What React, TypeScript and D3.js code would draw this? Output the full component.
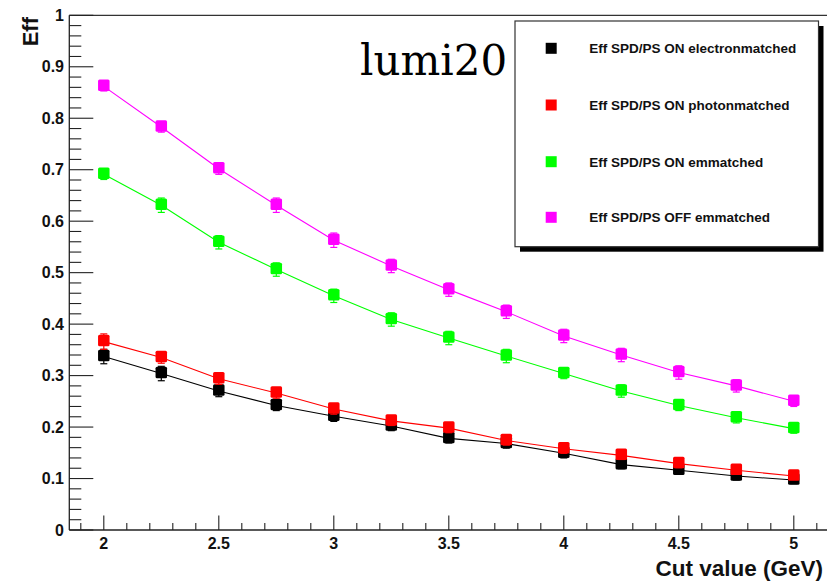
import React from "react";
import * as d3 from "d3";

// ---- data ----
const cutValues = [2, 2.25, 2.5, 2.75, 3, 3.25, 3.5, 3.75, 4, 4.25, 4.5, 4.75, 5];
const effOnElectron = [0.337, 0.304, 0.270, 0.242, 0.221, 0.202, 0.178, 0.168, 0.149, 0.127, 0.116, 0.105, 0.097];
const effOnPhoton = [0.366, 0.335, 0.294, 0.266, 0.235, 0.212, 0.198, 0.174, 0.158, 0.145, 0.129, 0.116, 0.105];
const effOnEm = [0.691, 0.631, 0.559, 0.506, 0.455, 0.409, 0.373, 0.338, 0.304, 0.270, 0.242, 0.218, 0.197];
const effOffEm = [0.862, 0.783, 0.702, 0.631, 0.563, 0.513, 0.467, 0.424, 0.377, 0.340, 0.306, 0.280, 0.250];
const errOnElectron = [0.014, 0.014, 0.011, 0.010, 0.010, 0.009, 0.009, 0.009, 0.009, 0.008, 0.008, 0.008, 0.007];
const errOnPhoton = [0.015, 0.011, 0.011, 0.010, 0.010, 0.009, 0.009, 0.009, 0.009, 0.008, 0.008, 0.008, 0.007];
const errOnEm = [0.010, 0.014, 0.013, 0.013, 0.013, 0.013, 0.013, 0.013, 0.010, 0.012, 0.010, 0.010, 0.009];
const errOffEm = [0.009, 0.010, 0.011, 0.014, 0.014, 0.013, 0.013, 0.013, 0.013, 0.013, 0.013, 0.012, 0.010];
const seriesNames = [
  "Eff SPD/PS ON electronmatched",
  "Eff SPD/PS ON photonmatched",
  "Eff SPD/PS ON emmatched",
  "Eff SPD/PS OFF emmatched",
];
const seriesColors = ["#000000", "#ff0000", "#00ff00", "#ff00ff"];
const seriesValues = [effOnElectron, effOnPhoton, effOnEm, effOffEm];
const seriesErrors = [errOnElectron, errOnPhoton, errOnEm, errOffEm];
const xMajorTicks = [2, 2.5, 3, 3.5, 4, 4.5, 5];
const xTickLabels = ["2", "2.5", "3", "3.5", "4", "4.5", "5"];
const yMajorTicks = [0, 0.1, 0.2, 0.3, 0.4, 0.5, 0.6, 0.7, 0.8, 0.9, 1];
const yTickLabels = ["0", "0.1", "0.2", "0.3", "0.4", "0.5", "0.6", "0.7", "0.8", "0.9", "1"];
const titleText = "lumi20";
const xTitle = "Cut value (GeV)";
const yTitle = "Eff";

const W = 827;
const H = 582;
const left = 69.3;
const bottom = 530;
const top = 15.3;

export default function App() {
  const x = d3.scaleLinear().domain([1.85, 5.15]).range([left, 828.3]);
  const y = d3.scaleLinear().domain([0, 1]).range([bottom, top]);
  const xMinor = d3.range(19, 52).map((v) => v / 10);
  const yMinor = d3.range(0, 51).map((v) => v / 50);
  const line = d3
    .line<number>()
    .x((_, i) => x(cutValues[i]))
    .y((d) => y(d));
  const font = "'Liberation Sans', Arial, Helvetica, sans-serif";
  const ms = 11.5;
  const legX = 515;
  const legY = 21;
  const legW = 303.5;
  const legH = 225.7;
  const legRows = [48.3, 105, 161.7, 217.3];

  return (
    <svg
      width={W}
      height={H}
      style={{ position: "absolute", left: 0, top: 0, background: "#fff" }}
      fontFamily={font}
    >
      <rect x={0} y={0} width={W} height={H} fill="#fff" />
      {/* frame */}
      <line x1={left} x2={W} y1={top} y2={top} stroke="#333" strokeWidth={1.2} />
      <line x1={left} x2={left} y1={top} y2={bottom} stroke="#222" strokeWidth={1.3} />
      <line x1={left} x2={W} y1={bottom} y2={bottom} stroke="#222" strokeWidth={1.3} />
      {/* y ticks */}
      {yMinor.map((v) => {
        const isMajor = Math.abs(v * 10 - Math.round(v * 10)) < 1e-6;
        return (
          <line
            key={"ym" + v}
            x1={left}
            x2={left + (isMajor ? 24 : 12)}
            y1={y(v)}
            y2={y(v)}
            stroke="#222"
            strokeWidth={1.1}
          />
        );
      })}
      {yMajorTicks.map((v, i) => (
        <text
          key={"yl" + v}
          x={64}
          y={y(v) + 5.6}
          textAnchor="end"
          fontSize={16}
          fontWeight="bold"
          fill="#111"
        >
          {yTickLabels[i]}
        </text>
      ))}
      {/* x ticks */}
      {xMinor.map((v) => {
        const isMajor = Math.abs(v * 2 - Math.round(v * 2)) < 1e-6;
        return (
          <line
            key={"xm" + v}
            x1={x(v)}
            x2={x(v)}
            y1={bottom}
            y2={bottom - (isMajor ? 14.5 : 7)}
            stroke="#222"
            strokeWidth={1.1}
          />
        );
      })}
      {xMajorTicks.map((v, i) => (
        <text
          key={"xl" + v}
          x={x(v)}
          y={548.5}
          textAnchor="middle"
          fontSize={16}
          fontWeight="bold"
          fill="#111"
        >
          {xTickLabels[i]}
        </text>
      ))}
      {/* axis titles */}
      <text x={823} y={576} textAnchor="end" fontSize={22.5} fontWeight="bold" fill="#111">
        {xTitle}
      </text>
      <text
        transform="translate(37.5,17) rotate(-90)"
        textAnchor="end"
        fontSize={22}
        fontWeight="bold"
        fill="#111"
      >
        {yTitle}
      </text>
      {/* series */}
      {seriesValues.map((vals, s) => (
        <g key={"s" + s}>
          <path d={line(vals) || ""} fill="none" stroke={seriesColors[s]} strokeWidth={1.1} />
          {vals.map((v, i) => {
            const cx = x(cutValues[i]);
            const e = seriesErrors[s][i];
            return (
              <g key={"p" + i}>
                <line x1={cx} x2={cx} y1={y(v - e)} y2={y(v + e)} stroke={seriesColors[s]} strokeWidth={1.2} />
                <line x1={cx - 3.5} x2={cx + 3.5} y1={y(v - e)} y2={y(v - e)} stroke={seriesColors[s]} strokeWidth={1.2} />
                <line x1={cx - 3.5} x2={cx + 3.5} y1={y(v + e)} y2={y(v + e)} stroke={seriesColors[s]} strokeWidth={1.2} />
                <rect
                  x={cx - ms / 2}
                  y={y(v) - ms / 2 - 1}
                  width={ms}
                  height={ms}
                  rx={1.5}
                  fill={seriesColors[s]}
                />
              </g>
            );
          })}
        </g>
      ))}
      {/* title */}
      <text x={360} y={75} fontFamily="'DejaVu Serif', 'Liberation Serif', serif" fontSize={42} fill="#000">
        {titleText}
      </text>
      {/* legend */}
      <rect x={legX + 5} y={legY + 5} width={legW} height={legH} fill="#000" />
      <rect x={legX} y={legY} width={legW} height={legH} fill="#fff" stroke="#333" strokeWidth={1.2} />
      {seriesNames.map((name, i) => (
        <g key={"lg" + i}>
          <rect x={551.2 - 5.5} y={legRows[i] - 5.5} width={11} height={11} fill={seriesColors[i]} />
          <text x={589.3} y={legRows[i] + 4.8} fontSize={13.5} fontWeight="bold" fill="#111">
            {name}
          </text>
        </g>
      ))}
    </svg>
  );
}
